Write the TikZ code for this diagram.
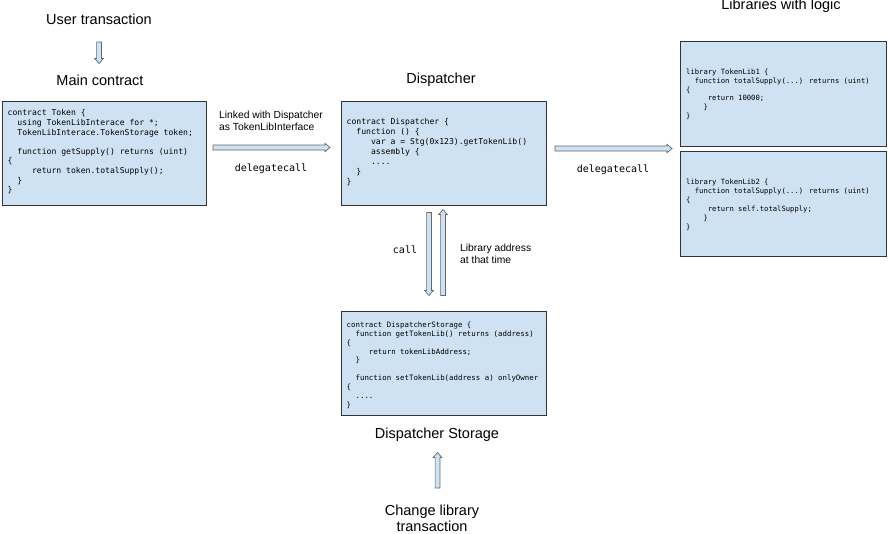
\documentclass[tikz,border=0pt]{standalone}
\usepackage{fontspec}
\setmainfont{Liberation Sans}
\newfontfamily\codefont{DejaVu Sans Mono}
\usetikzlibrary{calc}
\definecolor{boxfill}{HTML}{CFE2F3}
\definecolor{boxline}{HTML}{333333}
\definecolor{arrline}{HTML}{666666}
\newcommand\ind[1]{\hspace*{#1\fontcharwd\font`0}}
\newcommand\harrow[2]{\path[blockarrow] let \p1=(#1), \p2=(#2) in
  (\x1,\y1-2.5pt) -- (\x2-5pt,\y1-2.5pt) -- (\x2-5pt,\y1-4.2pt) -- (\x2,\y1)
  -- (\x2-5pt,\y1+4.2pt) -- (\x2-5pt,\y1+2.5pt) -- (\x1,\y1+2.5pt) -- cycle;}
\newcommand\darrow[2]{\path[blockarrow] let \p1=(#1), \p2=(#2) in
  (\x1-2.4pt,\y1) -- (\x1-2.4pt,\y2+5pt) -- (\x1-4.3pt,\y2+5pt) -- (\x1,\y2)
  -- (\x1+4.3pt,\y2+5pt) -- (\x1+2.4pt,\y2+5pt) -- (\x1+2.4pt,\y1) -- cycle;}
\newcommand\uarrow[2]{\path[blockarrow] let \p1=(#1), \p2=(#2) in
  (\x1-2.4pt,\y1) -- (\x1-2.4pt,\y2-5pt) -- (\x1-4.3pt,\y2-5pt) -- (\x1,\y2)
  -- (\x1+4.3pt,\y2-5pt) -- (\x1+2.4pt,\y2-5pt) -- (\x1+2.4pt,\y1) -- cycle;}
\tikzset{
  codebox/.style={draw=boxline, fill=boxfill, line width=0.8pt, inner sep=0pt, anchor=north west},
  blockarrow/.style={draw=arrline, fill=boxfill, line width=0.7pt},
  title/.style={font=\fontsize{14.5}{16}\selectfont, inner sep=0pt},
  label/.style={font=\fontsize{10.3}{12.5}\selectfont, inner sep=0pt, align=left},
  mono/.style={font=\codefont\fontsize{10}{12}\selectfont, inner sep=0pt},
  codeA/.style={font=\codefont\fontsize{8.1}{9.6}\selectfont, inner sep=0pt, anchor=north west, align=left},
  codeB/.style={font=\codefont\fontsize{8.1}{10}\selectfont, inner sep=0pt, anchor=north west, align=left},
  codeL/.style={font=\codefont\fontsize{7.2}{8.9}\selectfont, inner sep=0pt, anchor=north west, align=left},
  codeS/.style={font=\codefont\fontsize{7.4}{8.9}\selectfont, inner sep=0pt, anchor=north west, align=left},
}
\begin{document}
\begin{tikzpicture}[x=1pt,y=-1pt]
\useasboundingbox (0,0) rectangle (888,533);
\fill[white] (0,0) rectangle (888,533);

% titles
\node[title] (ut) at (99,19) {User transaction};
\node[title] (mct) at (100,80) {Main contract};
\node[title] (dt) at (441,80) {Dispatcher};
\node[title] (lt) at (781,6) {Libraries with logic};
\node[title] (st) at (437,435) {Dispatcher Storage};
\node[title, align=center, font=\fontsize{14.5}{15.5}\selectfont] (ct) at (432,518.5) {Change library\\transaction};

% boxes
\node[codebox, minimum width=204pt, minimum height=104pt] (main) at (2,101) {};
\node[codebox, minimum width=205pt, minimum height=104pt] (disp) at (341,101) {};
\node[codebox, minimum width=206pt, minimum height=105pt] (lib1) at (680,41) {};
\node[codebox, minimum width=206pt, minimum height=105pt] (lib2) at (680,151) {};
\node[codebox, minimum width=205pt, minimum height=104pt] (stor) at (341,311) {};

% code
\node[codeA] (maintext) at (7.5,109.5) {contract Token \{\\
\ind{2}using TokenLibInterace for *;\\
\ind{2}TokenLibInterace.TokenStorage token;\\
\mbox{}\\
\ind{2}function getSupply() returns (uint)\\
\{\\
\ind{5}return token.totalSupply();\\
\ind{2}\}\\
\}};

\node[codeB] (disptext) at (346.5,118.5) {contract Dispatcher \{\\
\ind{2}function () \{\\
\ind{5}var a = Stg(0x123).getTokenLib()\\
\ind{5}assembly \{\\
\ind{5}....\\
\ind{2}\}\\
\}};

\node[codeL] (lib1text) at (686,68.5) {library TokenLib1 \{\\
\ind{2}function totalSupply(...) returns (uint)\\
\{\\
\ind{5}return 10000;\\
\ind{4}\}\\
\}};

\node[codeL] (lib2text) at (686,179) {library TokenLib2 \{\\
\ind{2}function totalSupply(...) returns (uint)\\
\{\\
\ind{5}return self.totalSupply;\\
\ind{4}\}\\
\}};

\node[codeS] (stortext) at (346.5,321.5) {contract DispatcherStorage \{\\
\ind{2}function getTokenLib() returns (address)\\
\{\\
\ind{5}return tokenLibAddress;\\
\ind{2}\}\\
\mbox{}\\
\ind{2}function setTokenLib(address a) onlyOwner\\
\{\\
\ind{2}....\\
\}};

% labels
\node[label, anchor=west] (link) at (219,121) {Linked with Dispatcher\\as TokenLibInterface};
\node[mono] (dc1) at (271,169) {delegatecall};
\node[mono] (dc2) at (613,170) {delegatecall};
\node[mono] (call) at (405,250) {call};
\node[label, anchor=west] (addr) at (460,254) {Library address\\at that time};

% arrow endpoints
\coordinate (u1) at (99,42);
\coordinate (u2) at (99,63.5);
\coordinate (a1) at (213,147.5);
\coordinate (a2) at (330,147.5);
\coordinate (b1) at (555,148.5);
\coordinate (b2) at (672,148.5);
\coordinate (c1) at (429,212.5);
\coordinate (c2) at (429,295.5);
\coordinate (d1) at (443,295.5);
\coordinate (d2) at (443,209.5);
\coordinate (e1) at (437.5,488);
\coordinate (e2) at (437.5,452.5);

\darrow{u1}{u2}
\harrow{a1}{a2}
\harrow{b1}{b2}
\darrow{c1}{c2}
\uarrow{d1}{d2}
\uarrow{e1}{e2}
\end{tikzpicture}
\end{document}
